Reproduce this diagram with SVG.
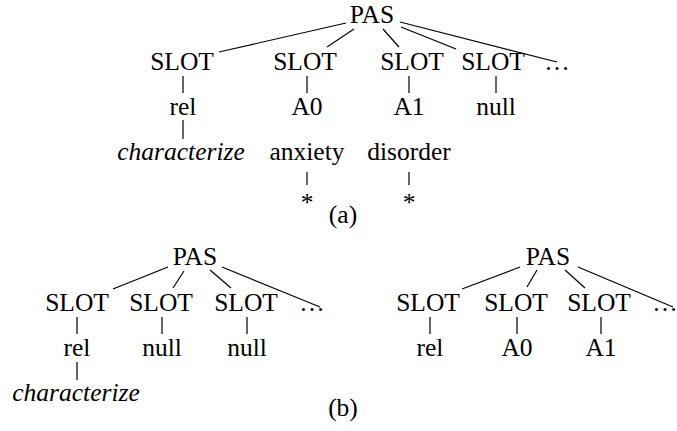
<svg xmlns="http://www.w3.org/2000/svg" width="677" height="431" viewBox="0 0 677 431">
<style>
.t text{font-family:"Liberation Serif",Tinos,"Times New Roman","DejaVu Serif",serif;font-size:25.5px;fill:#000;text-anchor:middle}
.it{font-style:italic}
line{stroke:#000;stroke-width:1.2}
</style>
<rect width="677" height="431" fill="#fff"/>
<g id="edges">
<line x1="346" y1="23" x2="219" y2="52"/>
<line x1="354" y1="29" x2="327" y2="47"/>
<line x1="383" y1="29" x2="399" y2="47"/>
<line x1="401" y1="27" x2="456" y2="49"/>
<line x1="400" y1="22" x2="557" y2="62"/>
<line x1="183" y1="76" x2="183" y2="93"/>
<line x1="307" y1="76" x2="307" y2="93"/>
<line x1="409" y1="76" x2="409" y2="93"/>
<line x1="496" y1="76" x2="496" y2="93"/>
<line x1="183" y1="120" x2="183" y2="139"/>
<line x1="307" y1="172" x2="307" y2="185"/>
<line x1="409" y1="172" x2="409" y2="185"/>
<line x1="168" y1="267" x2="113" y2="289"/>
<line x1="184" y1="271" x2="173" y2="288"/>
<line x1="210" y1="270" x2="231" y2="288"/>
<line x1="222" y1="267" x2="320" y2="307"/>
<line x1="77" y1="317" x2="77" y2="334"/>
<line x1="162" y1="317" x2="162" y2="334"/>
<line x1="247" y1="317" x2="247" y2="334"/>
<line x1="77" y1="362" x2="77" y2="380"/>
<line x1="520" y1="267" x2="462" y2="289"/>
<line x1="537" y1="270" x2="527" y2="287"/>
<line x1="565" y1="270" x2="585" y2="288"/>
<line x1="578" y1="267" x2="673" y2="307"/>
<line x1="430" y1="317" x2="430" y2="334"/>
<line x1="517" y1="317" x2="517" y2="334"/>
<line x1="601" y1="317" x2="601" y2="334"/>
</g>
<g class="t">
<g id="treeA">
<g id="a-pas"><text x="372" y="23">PAS</text></g>
<g id="a-slot1"><text x="182" y="70">SLOT</text></g>
<g id="a-slot2"><text x="305" y="70">SLOT</text></g>
<g id="a-slot3"><text x="412" y="70">SLOT</text></g>
<g id="a-slot4"><text x="493" y="70">SLOT</text></g>
<g id="a-dots"><text x="557" y="70">…</text></g>
<g id="a-rel"><text x="183" y="115">rel</text></g>
<g id="a-a0"><text x="307" y="115">A0</text></g>
<g id="a-a1"><text x="409" y="115">A1</text></g>
<g id="a-null"><text x="496" y="115">null</text></g>
<g id="a-char"><text class="it" x="181" y="160">characterize</text></g>
<g id="a-anx"><text x="307" y="160">anxiety</text></g>
<g id="a-dis"><text x="409" y="160">disorder</text></g>
<g id="a-star1"><text x="307" y="211">*</text></g>
<g id="a-star2"><text x="409" y="211">*</text></g>
<g id="a-cap"><text x="343" y="223">(a)</text></g>
</g>
<g id="treeB1">
<g id="b1-pas"><text x="195" y="265">PAS</text></g>
<g id="b1-slot1"><text x="77" y="311">SLOT</text></g>
<g id="b1-slot2"><text x="161" y="311">SLOT</text></g>
<g id="b1-slot3"><text x="246" y="311">SLOT</text></g>
<g id="b1-dots"><text x="312" y="311">…</text></g>
<g id="b1-rel"><text x="77" y="356">rel</text></g>
<g id="b1-null1"><text x="162" y="356">null</text></g>
<g id="b1-null2"><text x="247" y="356">null</text></g>
<g id="b1-char"><text class="it" x="76" y="401">characterize</text></g>
</g>
<g id="treeB2">
<g id="b2-pas"><text x="548" y="265">PAS</text></g>
<g id="b2-slot1"><text x="428" y="311">SLOT</text></g>
<g id="b2-slot2"><text x="516" y="311">SLOT</text></g>
<g id="b2-slot3"><text x="599" y="311">SLOT</text></g>
<g id="b2-dots"><text x="665" y="311">…</text></g>
<g id="b2-rel"><text x="430" y="356">rel</text></g>
<g id="b2-a0"><text x="517" y="356">A0</text></g>
<g id="b2-a1"><text x="601" y="356">A1</text></g>
</g>
<g id="capB"><text x="343" y="416">(b)</text></g>
</g>
</svg>
